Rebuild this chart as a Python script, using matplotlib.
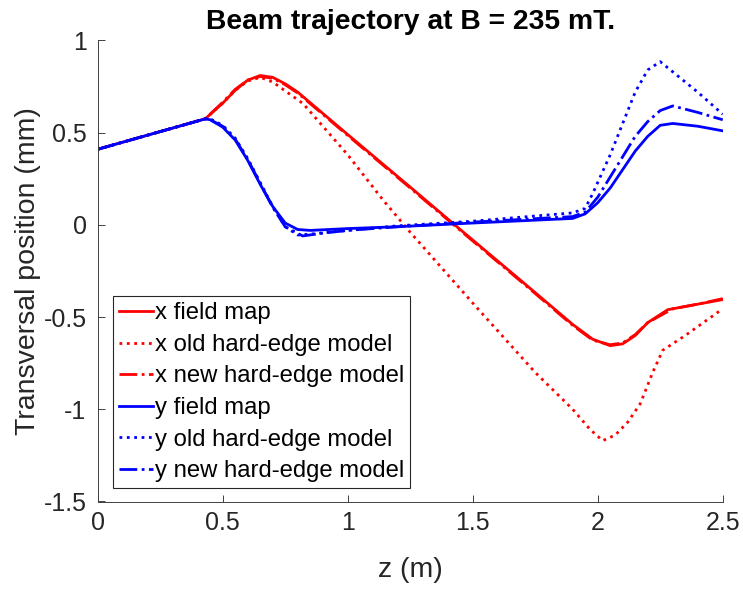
import matplotlib
matplotlib.use("Agg")
import matplotlib.pyplot as plt

plt.rcParams['font.family'] = ['Liberation Sans', 'DejaVu Sans']

# x plane: field map, old hard-edge model, new hard-edge model
z_x_map = [0, 0.43, 0.5, 0.55, 0.6, 0.65, 0.7, 0.75, 0.8, 1.0, 1.25, 1.45, 1.7, 1.9, 1.98,
           2.05, 2.1, 2.15, 2.2, 2.28, 2.4, 2.5]
x_map = [0.41, 0.575, 0.66, 0.73, 0.785, 0.81, 0.80, 0.765, 0.72, 0.49, 0.205, -0.025, -0.31,
         -0.54, -0.62, -0.655, -0.645, -0.6, -0.53, -0.46, -0.43, -0.405]

z_x_old = [0, 0.43, 0.5, 0.55, 0.6, 0.65, 0.7, 0.822, 1.0, 1.143, 1.25, 1.516, 1.75, 1.9, 1.97,
           2.02, 2.07, 2.12, 2.17, 2.22, 2.26, 2.35, 2.5]
x_old = [0.41, 0.575, 0.66, 0.73, 0.78, 0.80, 0.775, 0.657, 0.38, 0.132, -0.04, -0.448, -0.80,
         -1.0, -1.11, -1.17, -1.14, -1.07, -0.97, -0.80, -0.68, -0.60, -0.455]

z_x_new = [0, 0.43, 0.5, 0.55, 0.6, 0.65, 0.7, 0.75, 0.8, 1.0, 1.25, 1.45, 1.7, 1.9, 1.98,
           2.05, 2.1, 2.15, 2.2, 2.3, 2.4, 2.5]
x_new = [0.41, 0.575, 0.665, 0.735, 0.785, 0.805, 0.795, 0.76, 0.715, 0.485, 0.2, -0.03, -0.315,
         -0.545, -0.625, -0.65, -0.64, -0.595, -0.53, -0.455, -0.43, -0.40]

# y plane
z_y_map = [0, 0.43, 0.45, 0.5, 0.55, 0.6, 0.65, 0.7, 0.75, 0.8, 0.85, 1.0, 1.2, 1.5, 1.9, 1.95,
           2.0, 2.05, 2.1, 2.15, 2.2, 2.25, 2.3, 2.4, 2.5]
y_map = [0.41, 0.575, 0.57, 0.53, 0.46, 0.35, 0.22, 0.10, 0.01, -0.025, -0.03, -0.02, -0.01,
         0.01, 0.035, 0.06, 0.12, 0.2, 0.3, 0.4, 0.48, 0.54, 0.55, 0.535, 0.51]

z_y_old = [0, 0.43, 0.45, 0.5, 0.55, 0.6, 0.65, 0.7, 0.75, 0.8, 0.85, 1.0, 1.2, 1.5, 1.9, 1.95,
           1.98, 2.05, 2.1, 2.15, 2.2, 2.25, 2.3, 2.4, 2.5]
y_old = [0.41, 0.575, 0.575, 0.54, 0.47, 0.36, 0.23, 0.10, -0.01, -0.055, -0.05, -0.03, -0.005,
         0.02, 0.065, 0.09, 0.17, 0.38, 0.55, 0.72, 0.84, 0.885, 0.83, 0.72, 0.60]

z_y_new = [0, 0.43, 0.45, 0.5, 0.55, 0.6, 0.65, 0.7, 0.75, 0.82, 0.9, 1.0, 1.2, 1.5, 1.9, 1.95,
           2.0, 2.05, 2.1, 2.15, 2.2, 2.25, 2.3, 2.4, 2.5]
y_new = [0.41, 0.575, 0.57, 0.535, 0.465, 0.355, 0.225, 0.095, -0.01, -0.06, -0.045, -0.03,
         -0.01, 0.015, 0.045, 0.07, 0.15, 0.26, 0.37, 0.48, 0.56, 0.62, 0.645, 0.61, 0.57]

fig = plt.figure(figsize=(7.43, 5.90), dpi=100)
ax = fig.add_axes([0.1315, 0.1500, 0.8412, 0.7814])

lw = 2.0
ax.plot(z_x_map, x_map, color='#ff0000', ls='-', lw=lw, label='x field map')
ax.plot(z_x_old, x_old, color='#ff0000', ls=':', lw=lw, label='x old hard-edge model')
ax.plot(z_x_new, x_new, color='#ff0000', ls='-.', lw=lw, label='x new hard-edge model')
ax.plot(z_y_map, y_map, color='#0000ff', ls='-', lw=lw, label='y field map')
ax.plot(z_y_old, y_old, color='#0000ff', ls=':', lw=lw, label='y old hard-edge model')
ax.plot(z_y_new, y_new, color='#0000ff', ls='-.', lw=lw, label='y new hard-edge model')

ax.set_xlim(0, 2.5)
ax.set_ylim(-1.5, 1)
ax.set_xticks([0, 0.5, 1, 1.5, 2, 2.5])
ax.set_xticklabels(['0', '0.5', '1', '1.5', '2', '2.5'])
ax.set_yticks([-1.5, -1, -0.5, 0, 0.5, 1])
ax.set_yticklabels(['-1.5', '-1', '-0.5', '0', '0.5', '1'])

for side in ['top', 'right']:
    ax.spines[side].set_visible(False)
for side in ['left', 'bottom']:
    ax.spines[side].set_color('#404040')
    ax.spines[side].set_linewidth(0.7)
ax.tick_params(direction='in', length=5, width=0.7, colors='#404040', labelcolor='#262626',
               labelsize=18)
ax.tick_params(axis='x', pad=7)
ax.tick_params(axis='y', pad=8)

ax.set_xlabel('z (m)', fontsize=20.5, color='#262626', labelpad=16)
ax.set_ylabel('Transversal position (mm)', fontsize=20.5, color='#262626', labelpad=2)
ax.set_title('Beam trajectory at B = 235 mT.', fontsize=20.3, fontweight='bold', pad=8)

leg = ax.legend(loc='lower left', bbox_to_anchor=(0.024, 0.029), borderaxespad=0,
                fontsize=17.2, fancybox=False, framealpha=1, edgecolor='#262626',
                handlelength=1.45, handletextpad=0.05, labelspacing=0.40, borderpad=0.25)
leg.get_frame().set_linewidth(0.8)

fig.savefig('out.png', dpi=100)
